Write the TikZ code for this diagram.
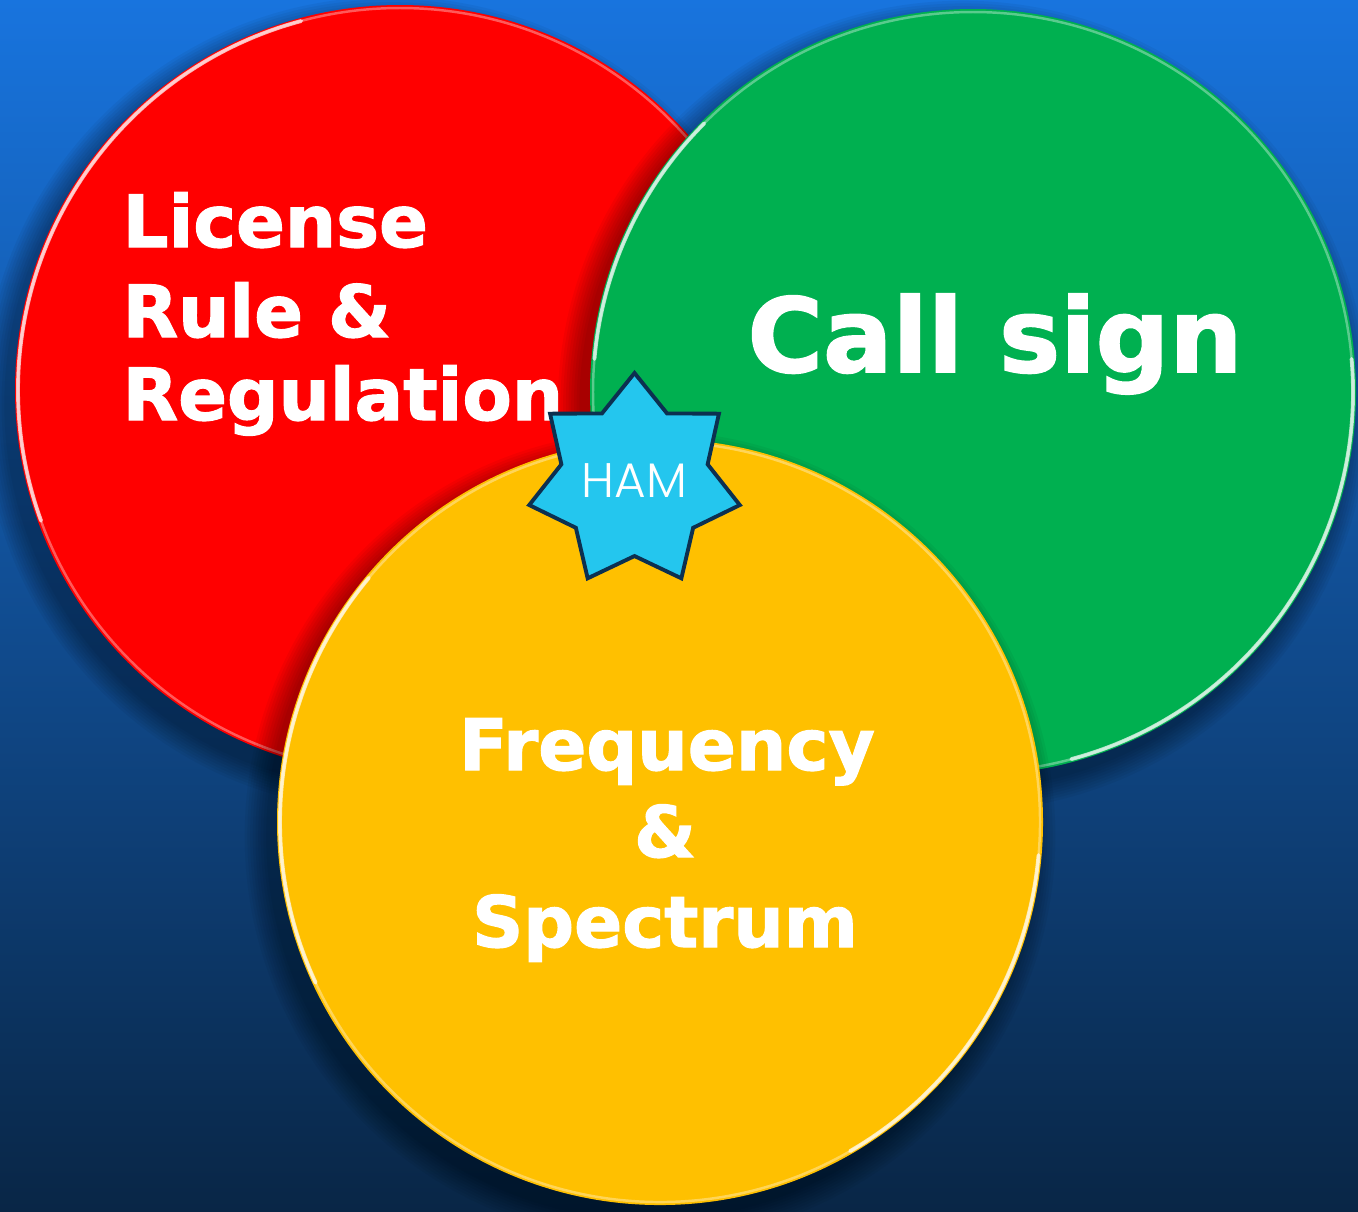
\documentclass[tikz,border=0pt]{standalone}
\usepackage{fontspec}
\setmainfont{DejaVu Sans}[BoldFeatures={FakeBold=1.6}]
\newfontfamily\hamfont{Poppins Light}
\usetikzlibrary{shapes.geometric}

\definecolor{bgtop}{RGB}{24,116,222}
\definecolor{bgmid}{RGB}{19,84,152}
\definecolor{bgbot}{RGB}{9,38,70}
\definecolor{redfill}{RGB}{255,0,0}
\definecolor{greenfill}{RGB}{0,176,80}
\definecolor{yellowfill}{RGB}{255,192,0}
\definecolor{hamblue}{RGB}{36,198,238}
\definecolor{hamline}{RGB}{12,48,80}

\begin{document}
\begin{tikzpicture}
\tikzstyle{disc} = [circle, inner sep=0pt, outer sep=0pt]
\tikzstyle{rim} = [white, opacity=0.35, line width=0.7pt]
\tikzstyle{gloss} = [white, opacity=0.7, line width=1.1pt, line cap=round]
\tikzstyle{word} = [text=white, inner sep=0pt, font=\bfseries]
\tikzstyle{redword} = [word, anchor=base west, font=\fontsize{20.5pt}{24pt}\selectfont\bfseries]
\tikzstyle{yellowword} = [word, anchor=base, font=\fontsize{20.2pt}{24pt}\selectfont\bfseries]

\useasboundingbox (0,0) rectangle (13.58,-12.11);
\shade[top color=bgtop, middle color=bgmid, bottom color=bgbot] (0,0) rectangle (13.58,-12.11);

% red circle
\foreach \k in {1,...,9}
	\fill[black, opacity=0.045] (3.90,-4.04) circle ({4.10-0.027*\k});
\path (4.00,-3.90) node[disc, fill=redfill, minimum size=7.70cm] (license) {};
\draw[rim] (4.00,-3.90) circle (3.82);
\draw[gloss] (4.00,-3.90) ++(105:3.82) arc (105:200:3.82);
\path (1.22,-2.47) node[redword] (license1) {License}
	(1.22,-3.37) node[redword] (license2) {Rule \&}
	(1.22,-4.20) node[redword] (license3) {Regulation};

% green circle
\foreach \k in {1,...,9}
	\fill[black, opacity=0.045] (9.63,-4.06) circle ({4.08-0.027*\k});
\path (9.73,-3.92) node[disc, fill=greenfill, minimum size=7.66cm] (callsign) {};
\draw[rim] (9.73,-3.92) circle (3.80);
\draw[gloss] (9.73,-3.92) ++(-75:3.80) arc (-75:5:3.80);
\draw[gloss] (9.73,-3.92) ++(135:3.80) arc (135:175:3.80);
\path (9.95,-3.72) node[word, anchor=base, font=\fontsize{29.3pt}{34pt}\selectfont\bfseries] (callsign1) {Call sign};

% yellow circle
\foreach \k in {1,...,9}
	\fill[black, opacity=0.045] (6.50,-8.36) circle ({4.08-0.027*\k});
\path (6.60,-8.22) node[disc, fill=yellowfill, minimum size=7.66cm] (freq) {};
\draw[rim] (6.60,-8.22) circle (3.80);
\draw[gloss] (6.60,-8.22) ++(140:3.80) arc (140:205:3.80);
\draw[gloss] (6.60,-8.22) ++(-60:3.80) arc (-60:-5:3.80);
\path (6.67,-7.70) node[yellowword] (freq1) {Frequency}
	(6.65,-8.57) node[yellowword] (freq2) {\&}
	(6.65,-9.47) node[yellowword] (freq3) {Spectrum};

% star
\path (6.345,-4.81) node[star, star points=7, star point ratio=1.44, minimum size=2.16cm,
	inner sep=0pt, fill=hamblue, draw=hamline, line width=1.1pt, text=white,
	font=\hamfont\fontsize{13.8pt}{16pt}\selectfont] (ham) {HAM};
\end{tikzpicture}
\end{document}
